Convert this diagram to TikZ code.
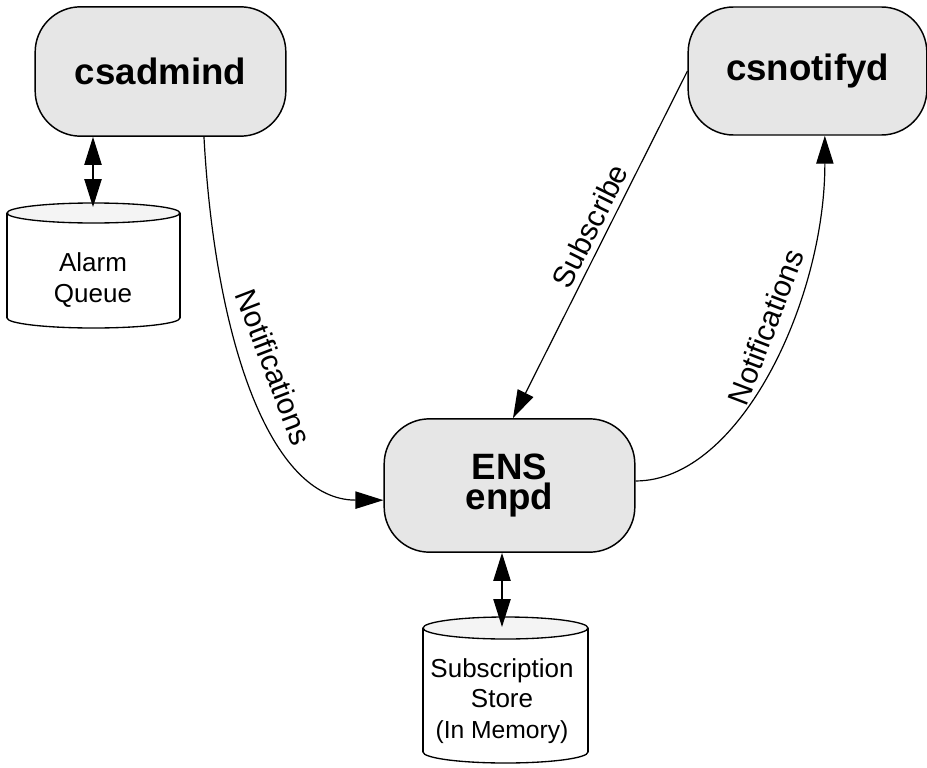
\documentclass[tikz,border=0pt]{standalone}
\usepackage{fontspec}
\setmainfont{Liberation Sans}
\usetikzlibrary{arrows.meta}
\definecolor{boxgray}{HTML}{E6E6E6}
\definecolor{topgray}{HTML}{F4F4F4}
\begin{document}
\begin{tikzpicture}[x=0.75pt,y=-0.75pt,
  proc/.style={draw=black, line width=1.1pt, fill=boxgray, rounded corners=34pt,
    minimum width=188pt, minimum height=97pt, inner sep=0pt,
    font=\fontsize{27.5}{29}\selectfont\bfseries, align=center},
  conn/.style={line width=0.9pt, -{Triangle[length=21pt,width=13pt]}},
  dconn/.style={line width=0.9pt, {Triangle[length=21pt,width=13pt]}-{Triangle[length=21pt,width=13pt]}},
  lab/.style={font=\fontsize{22.5}{24}\selectfont, inner sep=0pt},
  cyltext/.style={font=\fontsize{19.5}{23}\selectfont, align=center, inner sep=0pt},
  cylline/.style={line width=1pt}
]
\useasboundingbox (0,0) rectangle (927,767);

% process boxes
\node[proc] (csa) at (160.5,71.5) {csadmind};
\node[proc, minimum width=179pt, minimum height=96pt] (csn) at (807.5,71) {csnotifyd};
\node[proc, minimum height=100pt] (ens) at (509.5,485.5) {\raisebox{-4pt}{\shortstack{ENS\\[-1pt]enpd}}};

% Alarm Queue cylinder
\begin{scope}
  \fill[white] (7,213) rectangle (180,318);
  \begin{scope}
    \clip (0,318) rectangle (927,328);
    \draw[cylline, fill=white] (93.5,318) ellipse [x radius=86.5, y radius=10];
  \end{scope}
  \draw[cylline] (7,213) -- (7,318);
  \draw[cylline] (180,213) -- (180,318);
  \draw[cylline, fill=topgray] (93.5,213) ellipse [x radius=86.5, y radius=10];
\end{scope}
\coordinate (aqtop) at (93,207);
\node[cyltext] (aq) at (93,280) {Alarm\\Queue};

% Subscription Store cylinder
\begin{scope}
  \fill[white] (423,628) rectangle (588,752);
  \begin{scope}
    \clip (0,752) rectangle (927,763);
    \draw[cylline, fill=white] (505.5,752) ellipse [x radius=82.5, y radius=11];
  \end{scope}
  \draw[cylline] (423,628) -- (423,752);
  \draw[cylline] (588,628) -- (588,752);
  \draw[cylline, fill=topgray] (505.5,628) ellipse [x radius=82.5, y radius=11];
\end{scope}
\coordinate (sstop) at (502,627);
\node[cyltext] (ss) at (502,701) {Subscription\\Store\\{\fontsize{18.5}{23}\selectfont(In Memory)}};

% connectors
\draw[dconn] (csa.south -| aqtop) -- (aqtop);
\draw[dconn] (ens.south -| sstop) -- (sstop);

\draw[conn] ([xshift=32.6pt]csa.south) .. controls (215,340) and (270,500) .. ([yshift=-11pt]ens.west);
\draw[conn] (csn.west) -- ([xshift=2.6pt]ens.north);
\draw[conn] ([yshift=3.4pt]ens.east) .. controls (740,481) and (825,300) .. ([xshift=13pt]csn.south);

% labels
\node[lab, rotate=-69] (l1) at (274,367) {Notifications};
\node[lab, rotate=63.5] (l2) at (590,226) {Subscribe};
\node[lab, rotate=69] (l3) at (766,327) {Notifications};
\end{tikzpicture}
\end{document}
